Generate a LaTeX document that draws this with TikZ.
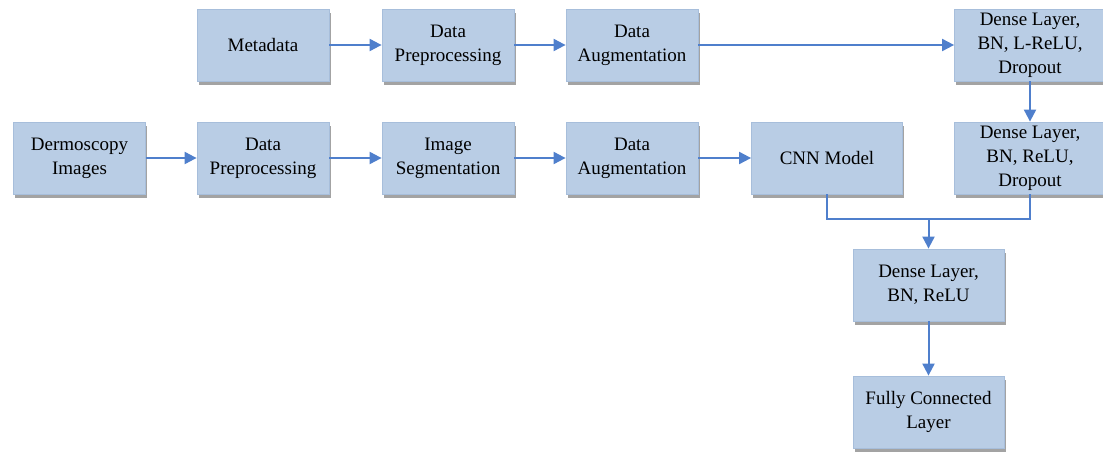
\documentclass[tikz,border=0pt]{standalone}
\usepackage{fontspec}
\setmainfont{Liberation Serif}
\usepackage{xcolor}
\usepackage{tikz}
\usetikzlibrary{positioning, calc, arrows.meta, shadows}

\definecolor{boxfill}{HTML}{B9CDE5}
\definecolor{boxline}{HTML}{A7BEDB}
\definecolor{flow}{HTML}{4F7FCC}

\tikzset{
	block/.style={draw=boxline, line width=0.8pt, fill=boxfill, minimum width=132pt, minimum height=72pt,
		align=center, inner sep=2pt, font=\fontsize{19}{24}\selectfont,
		drop shadow={shadow xshift=1.5pt, shadow yshift=-3.5pt, opacity=0.6, fill=black!60}},
	wide/.style={block, minimum width=151pt},
	flowline/.style={draw=flow, line width=2pt},
	flowarrow/.style={flowline, -{Triangle[length=12pt, width=12pt]}}
}

\begin{document}
\begin{tikzpicture}[x=1pt, y=-1pt]
	
	%//pixel frame of the figure
	\useasboundingbox (0,0) rectangle (1103,455);
	\clip (0,0) rectangle (1103,455);
	
	% metadata branch
	\node [block] (meta) at (263,45) {Metadata};
	\node [block] (prepA) at (448,45) {Data\\Preprocessing};
	\node [block] (augA) at (632,45) {Data\\Augmentation};
	\node [wide] (denseA) at (1030,45) {Dense Layer,\\BN, L-ReLU,\\Dropout};
	
	% image branch
	\node [block] (derm) at (79.5,158) {Dermoscopy\\Images};
	\node [block] (prepB) at (263,158) {Data\\Preprocessing};
	\node [block] (seg) at (448,158) {Image\\Segmentation};
	\node [block] (augB) at (632,158) {Data\\Augmentation};
	\node [wide] (cnn) at (827,158) {CNN Model};
	\node [wide] (denseB) at (1030,158) {Dense Layer,\\BN, ReLU,\\Dropout};
	
	% head
	\node [wide] (denseC) at (928.5,285) {Dense Layer,\\BN, ReLU};
	\node [wide] (fc) at (928.5,412) {Fully Connected\\Layer};
	
	\foreach \a/\b in {meta/prepA, prepA/augA, augA/denseA, derm/prepB, prepB/seg, seg/augB, augB/cnn}
	\draw [flowarrow] (\a.east) -- (\b.west);
	
	\draw [flowarrow] (denseA.south) -- (denseB.north);
	
	\coordinate (join) at (928.5,219);
	\draw [flowline] (cnn.south) |- (join) -| (denseB.south);
	\draw [flowarrow] (join) -- (denseC.north);
	\draw [flowarrow] (denseC.south) -- (fc.north);
	
\end{tikzpicture}
\end{document}
